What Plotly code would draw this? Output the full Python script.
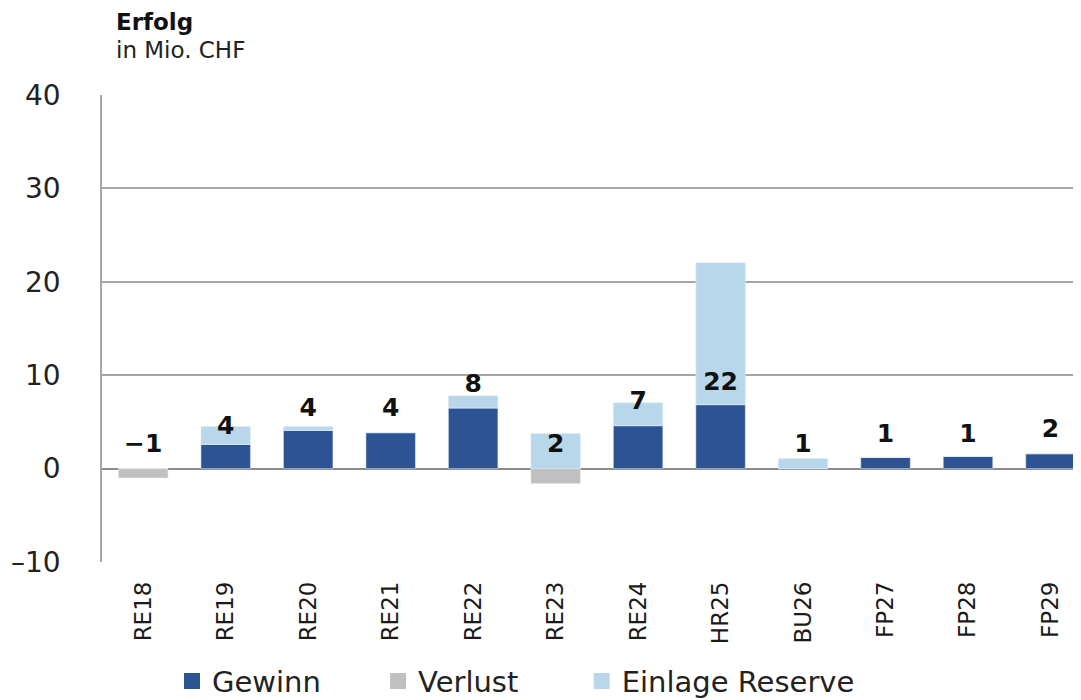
import plotly.graph_objects as go

categories = ["RE18", "RE19", "RE20", "RE21", "RE22", "RE23", "RE24", "HR25", "BU26", "FP27", "FP28", "FP29"]
gewinn = [0, 2.6, 4.1, 3.85, 6.5, 0, 4.6, 6.85, 0, 1.2, 1.3, 1.6]
verlust = [-1.0, 0, 0, 0, 0, -1.6, 0, 0, 0, 0, 0, 0]
einlage = [0, 1.9, 0.4, 0, 1.3, 3.75, 2.45, 15.2, 1.07, 0, 0, 0]
total_labels = ["−1", "4", "4", "4", "8", "2", "7", "22", "1", "1", "1", "2"]
label_y = [2.5, 4.4, 6.3, 6.3, 8.9, 2.4, 7.0, 9.1, 2.5, 3.5, 3.5, 4.0]
y_ticks = [-10, 0, 10, 20, 30, 40]

C_GEW = "#2c5495"
C_VER = "#c0c0c0"
C_EIN = "#b8d7ea"

series = [("Gewinn", gewinn, C_GEW, "legend", 0.0715),
          ("Verlust", verlust, C_VER, "legend2", 0.282),
          ("Einlage Reserve", einlage, C_EIN, "legend3", 0.490)]

fig = go.Figure()
legend_layout = {}
for name, vals, col, lg, lx in series:
    fig.add_trace(go.Bar(name=name, x=categories, y=vals, marker_color=col, width=0.6,
                         showlegend=False, legendgroup=name))
    fig.add_trace(go.Scatter(name=name, x=[None], y=[None], mode="markers",
                             marker=dict(symbol="square", size=18, color=col),
                             legendgroup=name, legend=lg, showlegend=True, hoverinfo="skip"))
    legend_layout[lg] = dict(orientation="h", x=lx, xanchor="left", y=-0.255, yanchor="middle",
                             bgcolor="rgba(0,0,0,0)",
                             font=dict(family="DejaVu Sans", size=29, color="#222222"))

fig.add_trace(go.Scatter(x=categories, y=label_y, text=total_labels, mode="text",
                         textfont=dict(family="DejaVu Sans", size=25, color="#111111", weight="bold"),
                         showlegend=False, hoverinfo="skip"))

# the page places the figure 8 px from the top-left corner of the window
fig.update_layout(
    width=1073, height=692,
    margin=dict(l=94, r=0, t=87, b=138, autoexpand=False),
    barmode="relative",
    plot_bgcolor="white", paper_bgcolor="white",
    xaxis=dict(range=[-0.5, 11.37], tickangle=-90, showgrid=False, zeroline=False,
               showline=False, ticks="", ticklabelstandoff=14, automargin=False,
               tickfont=dict(family="DejaVu Sans", size=23, color="#1a1a1a")),
    yaxis=dict(range=[-10, 40], tickvals=y_ticks, ticktext=[("–10" if v < 0 else str(v)) for v in y_ticks],
               showgrid=True, gridcolor="#a6a6a6", gridwidth=1.5,
               zeroline=True, zerolinecolor="#8c8c8c", zerolinewidth=1.5,
               showline=True, linecolor="#a6a6a6", linewidth=1.5,
               ticks="", ticklabelstandoff=34, automargin=False,
               tickfont=dict(family="DejaVu Sans", size=28, color="#222222")),
    annotations=[
        dict(text="<b>Erfolg</b>", xref="paper", yref="paper", x=0.012, y=1.156,
             xanchor="left", yanchor="middle", showarrow=False,
             font=dict(family="DejaVu Sans", size=23, color="#111111")),
        dict(text="in Mio. CHF", xref="paper", yref="paper", x=0.012, y=1.096,
             xanchor="left", yanchor="middle", showarrow=False,
             font=dict(family="DejaVu Sans", size=23, color="#222222")),
    ],
    **legend_layout,
)

fig.write_html("out.html")
